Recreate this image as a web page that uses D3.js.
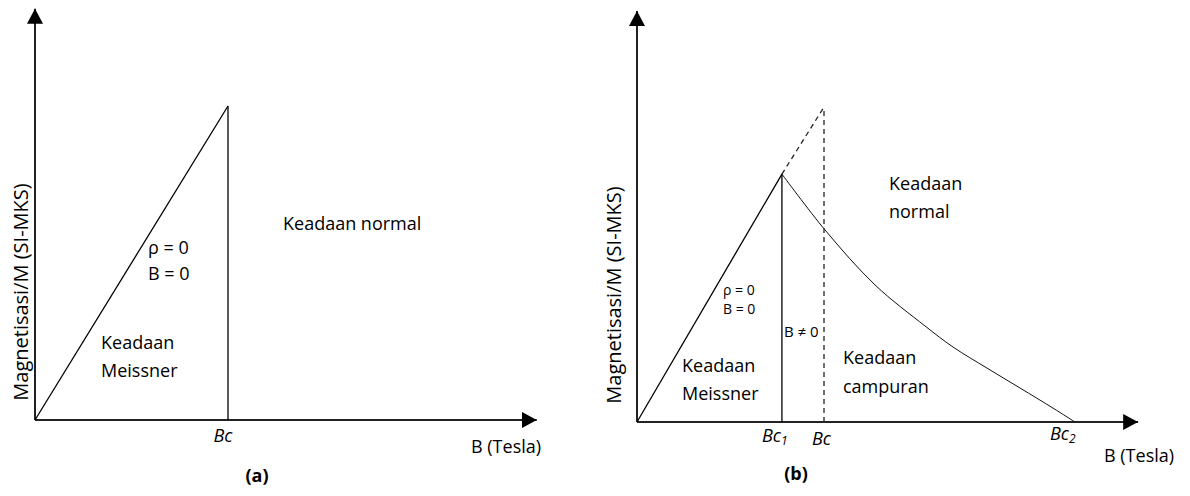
<!DOCTYPE html>
<html>
<head>
<meta charset="utf-8">
<script src="https://cdn.jsdelivr.net/npm/d3@7"></script>
<style>
  body { margin: 0; background: #fff; }
  text { font-family: "Open Sans", sans-serif; fill: #000; }
</style>
</head>
<body>
<script>
// (a) type I: M grows linearly until Bc, then drops to zero
var aMeissner = [[0, 0], [1, 1]];
var aCritical = [1];
var aCriticalLabels = ["Bc"];
var aAxisMax = [2.6, 1.31];       // [B, M] where the arrows end

// (b) type II: Meissner up to Bc1, mixed state until Bc2
var bMeissner = [[0, 0], [0.775, 0.787]];
var bExtension = [[0.775, 0.787], [1, 1]];      // dashed, type I continuation
var bMixed = [[0.775, 0.787], [1.005, 0.61], [1.273, 0.435], [1.54, 0.305], [1.69, 0.238],
              [1.872, 0.171], [2.048, 0.108], [2.225, 0.044], [2.342, 0]];
var bCritical = [0.775, 1, 2.342];
var bCriticalLabels = [["Bc", "1"], ["Bc", ""], ["Bc", "2"]];
var bAxisMax = [2.68, 1.305];

var yTitle = "Magnetisasi/M (SI-MKS)";
var xTitle = "B (Tesla)";

var svg = d3.select("body").append("svg")
    .attr("width", 1190)
    .attr("height", 496);

svg.append("defs").append("marker")
    .attr("id", "arrow")
    .attr("markerUnits", "userSpaceOnUse")
    .attr("viewBox", "0 -8 15 16")
    .attr("refX", 15)
    .attr("refY", 0)
    .attr("markerWidth", 15)
    .attr("markerHeight", 16)
    .attr("orient", "auto")
    .append("path")
    .attr("d", "M0,-8L15,0L0,8Z")
    .attr("fill", "#000");

function drawAxes(g, x, y, axisMax) {
    g.append("line")
        .attr("x1", x(0)).attr("y1", y(0))
        .attr("x2", x(axisMax[0])).attr("y2", y(0))
        .attr("stroke", "#222").attr("stroke-width", 2)
        .attr("marker-end", "url(#arrow)");
    g.append("line")
        .attr("x1", x(0)).attr("y1", y(0))
        .attr("x2", x(0)).attr("y2", y(axisMax[1]))
        .attr("stroke", "#222").attr("stroke-width", 2)
        .attr("marker-end", "url(#arrow)");
}

function addText(g, x, y, lines, size, gap) {
    var t = g.append("text")
        .attr("x", x).attr("y", y)
        .style("font-size", size + "px");
    lines.forEach(function(s, i) {
        t.append("tspan").attr("x", x).attr("dy", i ? gap : 0).text(s);
    });
    return t;
}

// ---------- panel (a)
var xa = d3.scaleLinear().domain([0, 1]).range([35, 228]);
var ya = d3.scaleLinear().domain([0, 1]).range([420, 106]);
var ga = svg.append("g");

drawAxes(ga, xa, ya, aAxisMax);

var lineA = d3.line().x(function(d) { return xa(d[0]); }).y(function(d) { return ya(d[1]); });
ga.append("path")
    .datum(aMeissner)
    .attr("fill", "none").attr("stroke", "#000").attr("stroke-width", 1.3)
    .attr("d", lineA);

ga.selectAll(".crit").data(aCritical).enter().append("line")
    .attr("x1", function(d) { return xa(d); }).attr("x2", function(d) { return xa(d); })
    .attr("y1", ya(0)).attr("y2", function(d) { return ya(d); })
    .attr("stroke", "#000").attr("stroke-width", 1.3);

ga.selectAll(".critLabel").data(aCritical).enter().append("text")
    .attr("x", function(d) { return xa(d) - 5; })
    .attr("y", 442)
    .attr("text-anchor", "middle")
    .style("font-size", "18px").style("font-style", "italic")
    .text(function(d, i) { return aCriticalLabels[i]; });

addText(ga, 148, 254, ["ρ = 0", "B = 0"], 18, 26);
addText(ga, 101, 349, ["Keadaan", "Meissner"], 18, 28);
addText(ga, 283, 230, ["Keadaan normal"], 18, 0);
addText(ga, 471, 453, [xTitle], 18, 0);

ga.append("text")
    .attr("transform", "translate(28,292) rotate(-90)")
    .attr("text-anchor", "middle")
    .style("font-size", "20px")
    .text(yTitle);

ga.append("text")
    .attr("x", 257).attr("y", 482)
    .attr("text-anchor", "middle")
    .style("font-size", "18px").style("font-weight", "bold")
    .text("(a)");

// ---------- panel (b)
var xb = d3.scaleLinear().domain([0, 1]).range([637, 824]);
var yb = d3.scaleLinear().domain([0, 1]).range([422, 107]);
var gb = svg.append("g");

drawAxes(gb, xb, yb, bAxisMax);

var lineB = d3.line().x(function(d) { return xb(d[0]); }).y(function(d) { return yb(d[1]); });

gb.append("path")
    .datum(bMeissner)
    .attr("fill", "none").attr("stroke", "#000").attr("stroke-width", 1.3)
    .attr("d", lineB);

gb.append("path")
    .datum(bExtension)
    .attr("fill", "none").attr("stroke", "#222").attr("stroke-width", 1.3)
    .attr("stroke-dasharray", "5,4")
    .attr("d", lineB);

gb.append("path")
    .datum(bMixed)
    .attr("fill", "none").attr("stroke", "#111").attr("stroke-width", 1)
    .attr("d", lineB.curve(d3.curveCatmullRom.alpha(0.5)));

// Bc1 solid, Bc dashed up to the extension end
gb.append("line")
    .attr("x1", xb(bCritical[0])).attr("x2", xb(bCritical[0]))
    .attr("y1", yb(0)).attr("y2", yb(bMeissner[1][1]))
    .attr("stroke", "#000").attr("stroke-width", 1.3);
gb.append("line")
    .attr("x1", xb(bCritical[1])).attr("x2", xb(bCritical[1]))
    .attr("y1", yb(0)).attr("y2", yb(bExtension[1][1]))
    .attr("stroke", "#222").attr("stroke-width", 1.3)
    .attr("stroke-dasharray", "5,4");

var labelDx = [-20, -12, -25], labelY = [442, 445, 440];
gb.selectAll(".critLabel").data(bCritical).enter().append("text")
    .attr("x", function(d, i) { return xb(d) + labelDx[i]; })
    .attr("y", function(d, i) { return labelY[i]; })
    .style("font-size", "18px").style("font-style", "italic")
    .each(function(d, i) {
        var t = d3.select(this);
        t.append("tspan").text(bCriticalLabels[i][0]);
        if (bCriticalLabels[i][1]) {
            t.append("tspan").attr("dy", 3).style("font-size", "12px").text(bCriticalLabels[i][1]);
        }
    });

addText(gb, 723, 295, ["ρ = 0", "B = 0"], 14, 19);
addText(gb, 784, 337, ["B ≠ 0"], 15, 0);
addText(gb, 682, 372, ["Keadaan", "Meissner"], 18, 28);
addText(gb, 843, 364, ["Keadaan", "campuran"], 18, 29);
addText(gb, 889, 190, ["Keadaan", "normal"], 18, 28);
addText(gb, 1104, 462, [xTitle], 18, 0);

gb.append("text")
    .attr("transform", "translate(621,295) rotate(-90)")
    .attr("text-anchor", "middle")
    .style("font-size", "20px")
    .text(yTitle);

gb.append("text")
    .attr("x", 796).attr("y", 480)
    .attr("text-anchor", "middle")
    .style("font-size", "18px").style("font-weight", "bold")
    .text("(b)");
</script>
</body>
</html>
